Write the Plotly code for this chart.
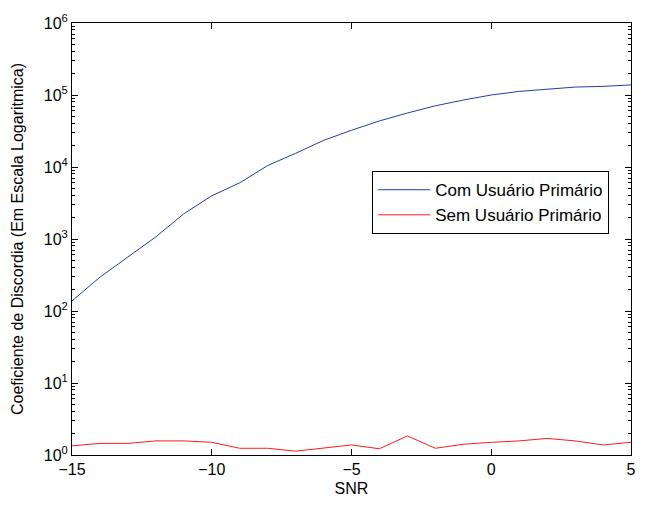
import plotly.graph_objects as go

snr = [-15, -14, -13, -12, -11, -10, -9, -8, -7, -6, -5, -4, -3, -2, -1, 0, 1, 2, 3, 4, 5]
log_com = [2.14, 2.47, 2.75, 3.03, 3.35, 3.6, 3.78, 4.02, 4.19, 4.37, 4.51, 4.64, 4.75, 4.85, 4.93, 5.0, 5.05, 5.08, 5.11, 5.12, 5.14]
com_usuario = [10 ** v for v in log_com]
sem_usuario = [1.34, 1.45, 1.45, 1.57, 1.57, 1.5, 1.24, 1.24, 1.13, 1.24, 1.38, 1.22, 1.84, 1.24, 1.41, 1.5, 1.57, 1.7, 1.57, 1.38, 1.5]
y_tickvals = [1, 10, 100, 1000, 10000, 100000, 1000000]
y_ticktext = ["10<sup>%d</sup>" % i for i in range(7)]
x_tickvals = [-15, -10, -5, 0, 5]

font = "Liberation Sans, Arial, Helvetica, sans-serif"

fig = go.Figure()
fig.add_trace(go.Scatter(x=snr, y=com_usuario, mode="lines", name="Com Usuário Primário",
                         line=dict(color="#1f3fa8", width=1)))
fig.add_trace(go.Scatter(x=snr, y=sem_usuario, mode="lines", name="Sem Usuário Primário",
                         line=dict(color="#ff1a1a", width=1)))

fig.update_layout(
    width=655, height=506,
    margin=dict(l=72, r=24, t=16, b=49),
    paper_bgcolor="white", plot_bgcolor="white",
    font=dict(family=font, size=16, color="black"),
    showlegend=True,
    legend=dict(x=0.537, y=0.657, xanchor="left", yanchor="top",
                bordercolor="black", borderwidth=1, bgcolor="white",
                font=dict(size=17), tracegroupgap=0, itemwidth=52),
)
fig.update_xaxes(
    range=[-15, 5], tickvals=x_tickvals,
    ticks="inside", ticklen=6, tickcolor="black",
    showline=True, linecolor="black", linewidth=1, mirror="ticks",
    showgrid=False, zeroline=False,
    title=dict(text="SNR", standoff=5, font=dict(size=16)),
)
fig.update_yaxes(
    type="log", range=[0, 6], tickvals=y_tickvals, ticktext=y_ticktext,
    ticks="inside", ticklen=6, tickcolor="black",
    minor=dict(ticks="inside", ticklen=3, tickcolor="black", showgrid=False,
               tickvals=[m * 10 ** e for e in range(6) for m in range(2, 10)]),
    showline=True, linecolor="black", linewidth=1, mirror="ticks",
    showgrid=False, zeroline=False,
    title=dict(text="Coeficiente de Discordia (Em Escala Logaritmica)", standoff=16, font=dict(size=16)),
)

fig.write_html("out.html")
